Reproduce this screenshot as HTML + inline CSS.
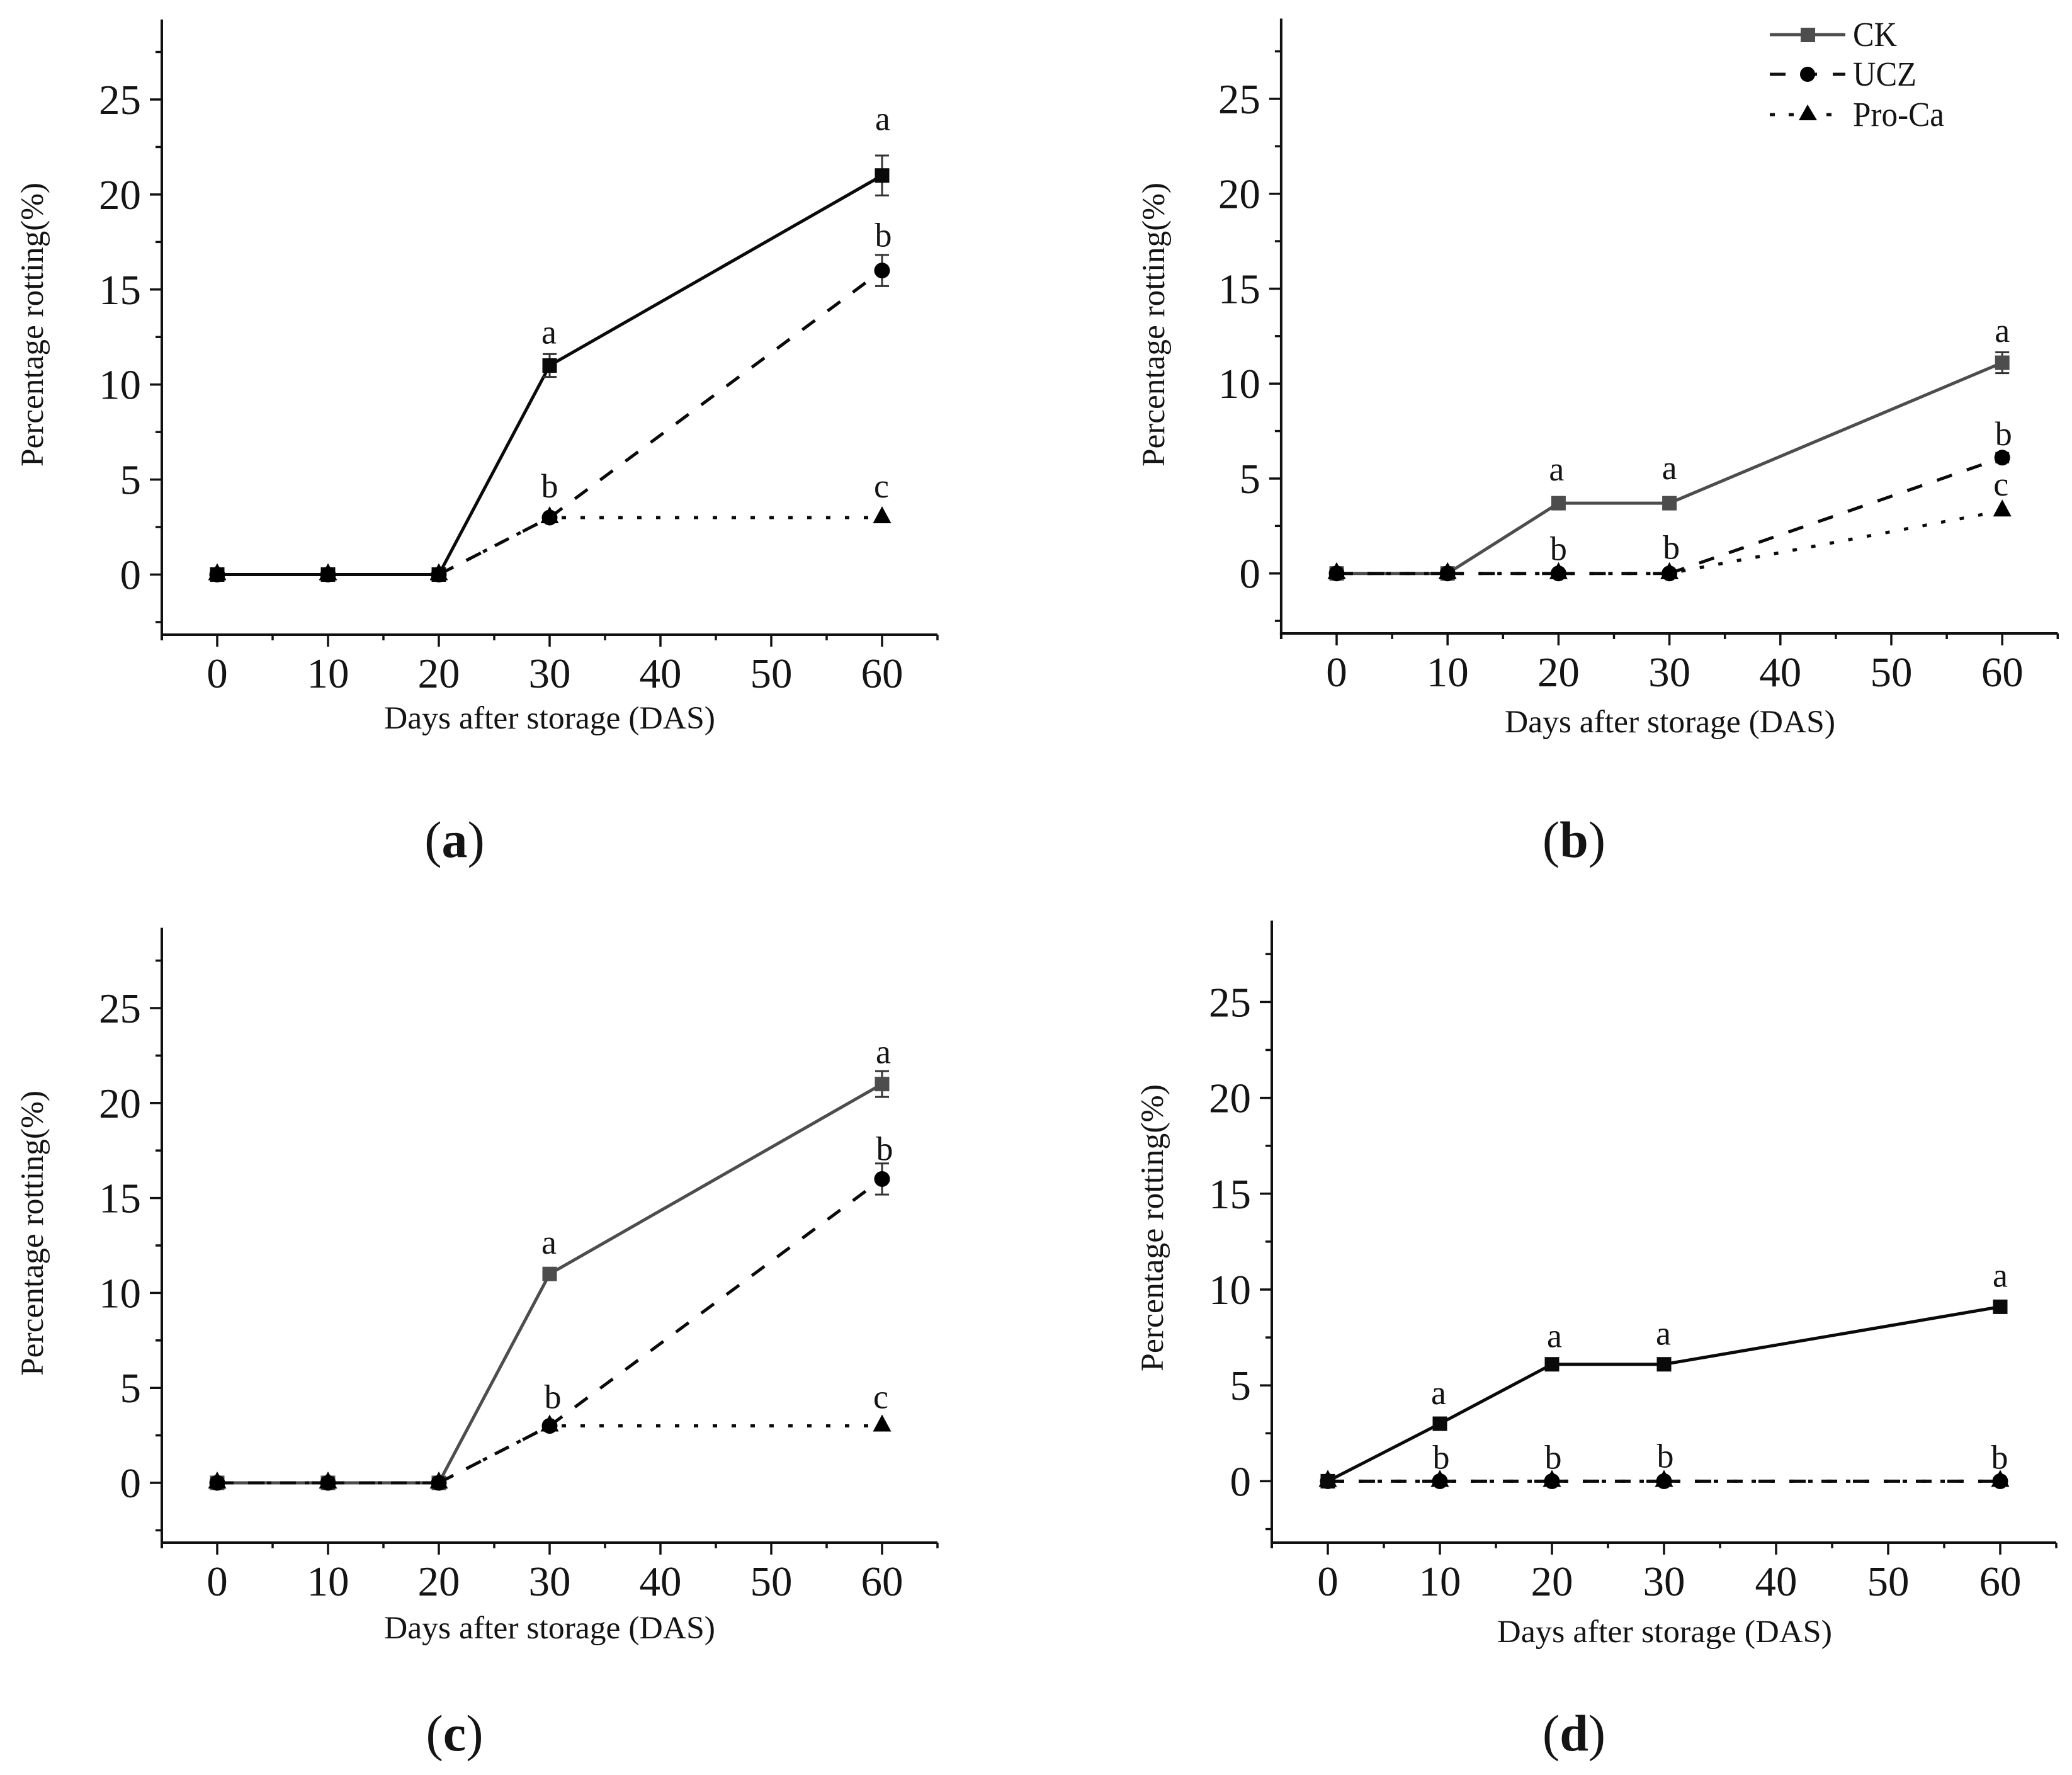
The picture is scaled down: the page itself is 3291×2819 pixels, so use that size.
<!DOCTYPE html>
<html lang="en">
<head>
<meta charset="utf-8">
<title>Percentage rotting over days after storage</title>
<style>
  html, body { margin: 0; padding: 0; background: #fff; }
  svg { display: block; }
  text { font-family: "Liberation Serif", serif; fill: #141414; }
</style>
</head>
<body>
<svg id="figure" xmlns="http://www.w3.org/2000/svg" width="3291" height="2819" viewBox="0 0 3291 2819">
  <rect width="3291" height="2819" fill="#fff"/>
  <g id="panel-a"></g>
  <g id="panel-b"></g>
  <g id="panel-c"></g>
  <g id="panel-d"></g>

  <g>
    <g>
      <line x1="2811" y1="55" x2="2931" y2="55" stroke="#4d4d4d" stroke-width="5"/>
      <rect x="2860" y="44" width="23" height="23" fill="#4d4d4d"/>
      <text x="2943" y="73" font-size="55" textLength="70" lengthAdjust="spacingAndGlyphs">CK</text>
    </g>
    <g>
      <line x1="2811" y1="118" x2="2931" y2="118" stroke="#111" stroke-width="5" stroke-dasharray="25 25"/>
      <circle cx="2871" cy="118" r="12" fill="#000"/>
      <text x="2943" y="136" font-size="55" textLength="101" lengthAdjust="spacingAndGlyphs">UCZ</text>
    </g>
    <g>
      <line x1="2811" y1="182" x2="2931" y2="182" stroke="#111" stroke-width="5" stroke-dasharray="8 22"/>
      <polygon points="2871,166 2886,191 2857,191" fill="#000"/>
      <text x="2943" y="200" font-size="55" textLength="145" lengthAdjust="spacingAndGlyphs">Pro-Ca</text>
    </g>
  </g>
</svg>

<script>
// Shared categories and tick labels
const days = [0, 10, 20, 30, 60];
const xTickLabels = [0, 10, 20, 30, 40, 50, 60];
const yTickLabels = [0, 5, 10, 15, 20, 25];

// Panel (a)
const aCK = [0, 0, 0, 11, 21];
const aCKErr = [0, 0, 0, 0.6, 1.05];
const aUCZ = [0, 0, 0, 3, 16];
const aUCZErr = [0, 0, 0, 0, 0.82];
const aPro = [0, 0, 0, 3, 3];

// Panel (b)
const bCK = [0, 0, 3.7, 3.7, 11.1];
const bCKErr = [0, 0, 0, 0, 0.55];
const bUCZ = [0, 0, 0, 0, 6.1];
const bUCZErr = [0, 0, 0, 0, 0.25];
const bPro = [0, 0, 0, 0, 3.3];

// Panel (c)
const cCK = [0, 0, 0, 11, 21];
const cCKErr = [0, 0, 0, 0, 0.68];
const cUCZ = [0, 0, 0, 3, 16];
const cUCZErr = [0, 0, 0, 0, 0.82];
const cPro = [0, 0, 0, 3, 3];

// Panel (d)
const dCK = [0, 3, 6.1, 6.1, 9.1];
const dUCZ = [0, 0, 0, 0, 0];
const dPro = [0, 0, 0, 0, 0];
const noErr = [0, 0, 0, 0, 0];

const NS = 'http://www.w3.org/2000/svg';

function mk(tag, parent, attrs, text) {
  const el = document.createElementNS(NS, tag);
  for (const k in attrs) el.setAttribute(k, attrs[k]);
  if (text !== undefined) el.textContent = text;
  parent.appendChild(el);
  return el;
}

function makeFrame(o) {
  return {
    x: function (v) { return o.x0 + v * o.xUnit; },
    y: function (v) { return o.y0 - v * o.yUnit; },
    top: o.top,
    bottom: o.bottom,
    xStart: o.x0 - 5 * o.xUnit,
    xEnd: o.x0 + 65 * o.xUnit
  };
}

function drawAxes(g, f) {
  const lineStyle = { stroke: '#111', 'stroke-width': 4 };

  const yAxis = mk('line', g, Object.assign({ x1: f.xStart, x2: f.xStart, y1: f.top, y2: f.bottom + 9 }, lineStyle));
  
  

  const xAxis = mk('line', g, Object.assign({ x1: f.xStart - 2, x2: f.xEnd, y1: f.bottom, y2: f.bottom }, lineStyle));
  
  

  for (const v of xTickLabels) {
    const t = mk('line', g, Object.assign({ x1: f.x(v), x2: f.x(v), y1: f.bottom, y2: f.bottom + 19 }, lineStyle, { 'stroke-width': 3.5 }));
    
    

    const l = mk('text', g, { x: f.x(v), y: f.bottom + 84, 'font-size': 67, 'text-anchor': 'middle' }, String(v));
    
    
  }
  for (let v = 5; v <= 65; v += 10) {
    const t = mk('line', g, Object.assign({ x1: f.x(v), x2: f.x(v), y1: f.bottom, y2: f.bottom + 9 }, lineStyle, { 'stroke-width': 3.5 }));
    
    
  }
  for (const v of yTickLabels) {
    const t = mk('line', g, Object.assign({ x1: f.xStart - 19, x2: f.xStart, y1: f.y(v), y2: f.y(v) }, lineStyle, { 'stroke-width': 3.5 }));
    
    

    const l = mk('text', g, { x: f.xStart - 33, y: f.y(v) + 23, 'font-size': 67, 'text-anchor': 'end' }, String(v));
    
    
  }
  for (let v = -2.5; v <= 27.5; v += 5) {
    const t = mk('line', g, Object.assign({ x1: f.xStart - 10, x2: f.xStart, y1: f.y(v), y2: f.y(v) }, lineStyle, { 'stroke-width': 3.5 }));
    
    
  }
}

function drawSeries(g, f, values, errs, kind, color, dash, dashOffset) {
  // The dash pattern restarts at every data point, so each span is its own line.
  for (let i = 0; i < values.length - 1; i++) {
    const attrs = {
      x1: f.x(days[i]), y1: f.y(values[i]),
      x2: f.x(days[i + 1]), y2: f.y(values[i + 1]),
      stroke: color, 'stroke-width': 5
    };
    if (dash) attrs['stroke-dasharray'] = dash;
    if (dashOffset) attrs['stroke-dashoffset'] = dashOffset;
    const seg = mk('line', g, attrs);
    
    
  }

  values.forEach(function (v, i) {
    const cx = f.x(days[i]);
    const cy = f.y(v);
    const e = errs[i];
    if (e > 0) {
      const bar = mk('path', g, {
        d: 'M' + cx + ' ' + f.y(v + e) + 'V' + f.y(v - e) +
           'M' + (cx - 11) + ' ' + f.y(v + e) + 'H' + (cx + 11) +
           'M' + (cx - 11) + ' ' + f.y(v - e) + 'H' + (cx + 11),
        fill: 'none', stroke: '#333', 'stroke-width': 3
      });
      
      
    }
    let m;
    if (kind === 'square') {
      m = mk('rect', g, { x: cx - 11.5, y: cy - 11.5, width: 23, height: 23, fill: color });
    } else if (kind === 'circle') {
      m = mk('circle', g, { cx: cx, cy: cy, r: 12.5, fill: '#000' });
    } else {
      m = mk('polygon', g, { points: cx + ',' + (cy - 18) + ' ' + (cx + 14.5) + ',' + (cy + 9) + ' ' + (cx - 14.5) + ',' + (cy + 9), fill: '#000' });
    }
    
    
  });
}

function letter(g, f, ch, dayValue, value, dx, dy) {
  const t = mk('text', g, { x: f.x(dayValue) + dx, y: f.y(value) + dy, 'font-size': 54, 'text-anchor': 'middle' }, ch);
  
  
}

function titles(g, xt, yt, cap) {
  const xTitle = mk('text', g, { x: xt.x, y: xt.y, 'font-size': 51, textLength: xt.len, lengthAdjust: 'spacingAndGlyphs' }, 'Days after storage (DAS)');
  
  

  const yTitle = mk('text', g, { transform: 'translate(' + yt.x + ' ' + yt.y + ') rotate(-90)', 'font-size': 51, textLength: yt.len, lengthAdjust: 'spacingAndGlyphs' }, 'Percentage rotting(%)');
  
  

  const c = mk('text', g, { x: cap.x, y: cap.y, 'font-size': 82, 'text-anchor': 'middle' });
  
  
  mk('tspan', c, {}, '(');
  mk('tspan', c, { 'font-weight': 'bold' }, cap.ch);
  mk('tspan', c, {}, ')');
}

const DASH = '25 25';
const DOTS = '7 23';
const DOT_OFFSET = 11;
const GRAY = '#4d4d4d';
const BLACK = '#0a0a0a';

// ---- Panel a ----
(function () {
  const g = document.getElementById('panel-a');
  const f = makeFrame({ x0: 345, xUnit: 17.6, y0: 912.5, yUnit: 30.18, top: 31, bottom: 1008 });
  drawAxes(g, f);
  drawSeries(g, f, aCK, aCKErr, 'square', BLACK);
  drawSeries(g, f, aUCZ, aUCZErr, 'circle', BLACK, DASH);
  drawSeries(g, f, aPro, noErr, 'triangle', BLACK, DOTS, DOT_OFFSET);
  letter(g, f, 'a', days[4], aCK[4], 1, -72);
  letter(g, f, 'b', days[4], aUCZ[4], 2, -38);
  letter(g, f, 'c', days[4], aPro[4], -1, -32);
  letter(g, f, 'a', days[3], aCK[3], -1, -35);
  letter(g, f, 'b', days[3], aUCZ[3], 0, -32);
  titles(g, { x: 610, y: 1157, len: 526 }, { x: 68, y: 741, len: 451 }, { x: 722, y: 1361, ch: 'a' });
})();

// ---- Panel b ----
(function () {
  const g = document.getElementById('panel-b');
  const f = makeFrame({ x0: 2123, xUnit: 17.62, y0: 910.7, yUnit: 30.15, top: 29.5, bottom: 1006 });
  drawAxes(g, f);
  drawSeries(g, f, bCK, bCKErr, 'square', GRAY);
  drawSeries(g, f, bUCZ, bUCZErr, 'circle', BLACK, DASH);
  drawSeries(g, f, bPro, noErr, 'triangle', BLACK, DOTS, DOT_OFFSET);
  letter(g, f, 'a', days[2], bCK[2], -3, -36);
  letter(g, f, 'a', days[3], bCK[3], 0, -38);
  letter(g, f, 'a', days[4], bCK[4], 0, -33);
  letter(g, f, 'b', days[2], bUCZ[2], 0, -21);
  letter(g, f, 'b', days[3], bUCZ[3], 3, -23);
  letter(g, f, 'b', days[4], bUCZ[4], 2, -20);
  letter(g, f, 'c', days[4], bPro[4], -2, -24);
  titles(g, { x: 2390, y: 1163, len: 525 }, { x: 1849, y: 741, len: 451 }, { x: 2500, y: 1361, ch: 'b' });
})();

// ---- Panel c ----
(function () {
  const g = document.getElementById('panel-c');
  const f = makeFrame({ x0: 345, xUnit: 17.6, y0: 2355, yUnit: 30.16, top: 1473.5, bottom: 2450 });
  drawAxes(g, f);
  drawSeries(g, f, cCK, cCKErr, 'square', GRAY);
  drawSeries(g, f, cUCZ, cUCZErr, 'circle', BLACK, DASH);
  drawSeries(g, f, cPro, noErr, 'triangle', BLACK, DOTS, DOT_OFFSET);
  letter(g, f, 'a', days[4], cCK[4], 2, -33);
  letter(g, f, 'b', days[4], cUCZ[4], 4, -30);
  letter(g, f, 'c', days[4], cPro[4], -2, -28);
  letter(g, f, 'a', days[3], cCK[3], -1, -32);
  letter(g, f, 'b', days[3], cUCZ[3], 5, -28);
  titles(g, { x: 610, y: 2602, len: 526 }, { x: 68, y: 2185, len: 453 }, { x: 722, y: 2780, ch: 'c' });
})();

// ---- Panel d ----
(function () {
  const g = document.getElementById('panel-d');
  const f = makeFrame({ x0: 2109, xUnit: 17.8, y0: 2352.4, yUnit: 30.44, top: 1462, bottom: 2450 });
  drawAxes(g, f);
  drawSeries(g, f, dPro, noErr, 'triangle', BLACK, DOTS, DOT_OFFSET);
  drawSeries(g, f, dUCZ, noErr, 'circle', BLACK, DASH);
  drawSeries(g, f, dCK, noErr, 'square', BLACK);
  letter(g, f, 'a', days[1], dCK[1], -2, -31);
  letter(g, f, 'a', days[2], dCK[2], 4, -27);
  letter(g, f, 'a', days[3], dCK[3], -1, -31);
  letter(g, f, 'a', days[4], dCK[4], 0, -32);
  letter(g, f, 'b', days[1], dUCZ[1], 2, -20);
  letter(g, f, 'b', days[2], dUCZ[2], 2, -20);
  letter(g, f, 'b', days[3], dUCZ[3], 2, -22);
  letter(g, f, 'b', days[4], dUCZ[4], -1, -20);
  titles(g, { x: 2378, y: 2608, len: 532 }, { x: 1847, y: 2178, len: 456 }, { x: 2500, y: 2780, ch: 'd' });
})();
</script>
</body>
</html>
